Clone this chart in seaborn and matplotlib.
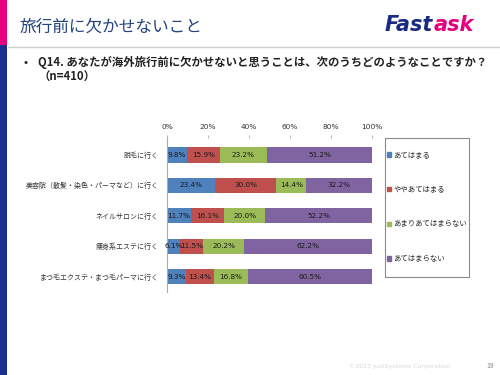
import matplotlib.pyplot as plt
import matplotlib.patches as mpatches
import pandas as pd
import seaborn as sns

# survey items (rows) and answer categories (stack order)
items = ["脱毛に行く", "美容院（散髪・染色・パーマなど）に行く", "ネイルサロンに行く",
         "痩身系エステに行く", "まつ毛エクステ・まつ毛パーマに行く"]
answers = ["あてはまる", "ややあてはまる", "あまりあてはまらない", "あてはまらない"]

atehamaru = [9.8, 23.4, 11.7, 6.1, 9.3]
yaya_atehamaru = [15.9, 30.0, 16.1, 11.5, 13.4]
amari_atehamaranai = [23.2, 14.4, 20.0, 20.2, 16.8]
atehamaranai = [51.2, 32.2, 52.2, 62.2, 60.5]

colors = ["#4F81BD", "#C0504D", "#9BBB59", "#8064A2"]
x_ticks = [0, 20, 40, 60, 80, 100]

series = [atehamaru, yaya_atehamaru, amari_atehamaranai, atehamaranai]
rows = []
for i, item in enumerate(items):
    left = 0
    for ans, vals in zip(answers, series):
        rows.append({"item": item, "answer": ans, "value": vals[i],
                     "left": left, "right": left + vals[i], "pos": i})
        left += vals[i]
df = pd.DataFrame(rows)

sns.set_style("white")
plt.rcParams["font.family"] = ["Noto Sans CJK JP", "DejaVu Sans"]

fig = plt.figure(figsize=(5, 3.75), dpi=100)

# slide decoration layer in pixel coords
bg = fig.add_axes([0, 0, 1, 1])
bg.set_xlim(0, 500)
bg.set_ylim(375, 0)
bg.axis("off")
bg.add_patch(mpatches.Rectangle((0, 0), 7, 45, color="#E4007F", lw=0))
bg.add_patch(mpatches.Rectangle((0, 45), 7, 330, color="#1C2F8C", lw=0))
bg.plot([8, 500], [47, 47], color="#CFCFCF", lw=1)
bg.text(20, 27, "旅行前に欠かせないこと", fontsize=12, color="#23427E", va="center", ha="left")
t1 = bg.text(385, 25, "Fast", fontsize=15, fontweight="bold", fontstyle="italic",
             family="DejaVu Sans", color="#1A2A80", va="center", ha="left")
bg.annotate("ask", xy=(1, 0), xycoords=t1, va="bottom", ha="left", fontsize=15,
            fontweight="bold", fontstyle="italic", family="DejaVu Sans", color="#E4007F")
bg.text(23, 62, "•", fontsize=9, va="center", ha="left", color="#222222")
bg.text(38, 62, "Q14. あなたが海外旅行前に欠かせないと思うことは、次のうちどのようなことですか？",
        fontsize=8.2, fontweight="bold", va="center", ha="left", color="#222222")
bg.text(38, 76, "（n=410）", fontsize=8.2, fontweight="bold", va="center", ha="left", color="#222222")
bg.text(400, 366, "©2013 JustSystems Corporation", fontsize=4.5, color="#D8D8D8",
        va="center", ha="center", family="DejaVu Sans")
bg.text(490, 366, "19", fontsize=5, color="#888888", va="center", ha="center")
bg.add_patch(mpatches.Rectangle((385, 138), 84, 139, fill=False, ec="#8C8C8C", lw=0.8))

# chart
ax = fig.add_axes([167 / 500, 1 - 292 / 375, 205 / 500, 154 / 375])
sns.barplot(data=df, x="right", y="item", hue="answer", hue_order=answers[::-1],
            order=items, palette=dict(zip(answers, colors)), dodge=False, width=0.5,
            orient="h", saturation=1, errorbar=None, legend=False, ax=ax, linewidth=0)

for _, r in df.iterrows():
    ax.text(r["left"] + r["value"] / 2, r["pos"], f"{r['value']:.1f}%", ha="center",
            va="center", fontsize=5.2, color="#1A1A1A", family="DejaVu Sans")

ax.set_xlim(0, 100)
ax.set_ylim(4.51, -0.56)
ax.xaxis.tick_top()
ax.set_xticks(x_ticks)
ax.set_xticklabels([f"{t}%" for t in x_ticks], fontsize=5.3, color="#333333", family="DejaVu Sans")
ax.set_yticks(range(len(items)))
ax.set_yticklabels(items, fontsize=5.0, color="#333333")
ax.set_yticks([0.5, 1.5, 2.5, 3.5], minor=True)
ax.tick_params(axis="x", length=2, color="#BBBBBB", pad=4)
ax.tick_params(axis="y", which="major", length=0, pad=6)
ax.tick_params(axis="y", which="minor", length=2, color="#BBBBBB")
ax.set_xlabel("")
ax.set_ylabel("")
for s in ["top", "right", "bottom"]:
    ax.spines[s].set_visible(False)
ax.spines["left"].set_color("#AAAAAA")
ax.spines["left"].set_linewidth(0.8)

handles = [mpatches.Patch(color=c, label=a) for a, c in zip(answers, colors)]
fig.legend(handles=handles, loc="upper left", bbox_to_anchor=(387 / 500, 1 - 151 / 375),
           frameon=False, fontsize=5.3, handlelength=0.55, handleheight=0.55,
           handletextpad=0.3, labelspacing=3.63, borderpad=0, borderaxespad=0)

fig.savefig("out.png", dpi=100, facecolor="white")
